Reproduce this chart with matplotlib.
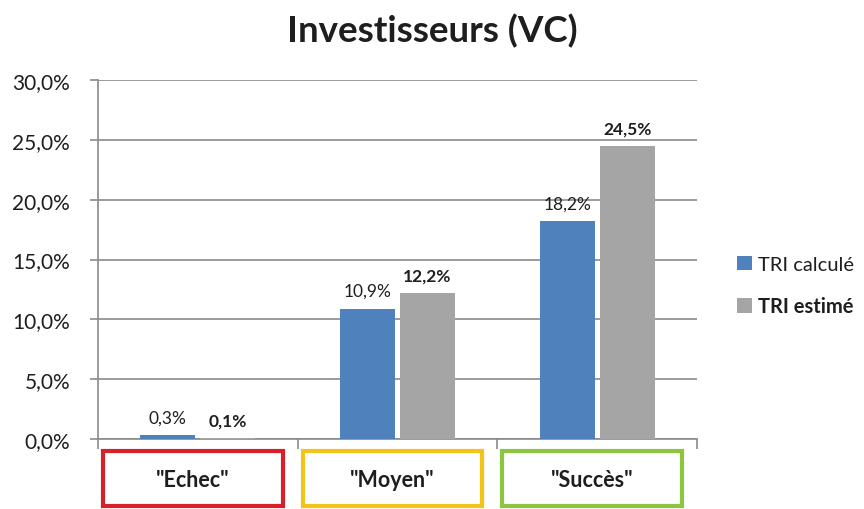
import matplotlib
matplotlib.use("Agg")
import matplotlib.pyplot as plt
from matplotlib.patches import Rectangle
from matplotlib.transforms import blended_transform_factory
import numpy as np

plt.rcParams['font.family'] = ['Lato', 'DejaVu Sans']

categories = ['"Echec"', '"Moyen"', '"Succès"']
tri_calcule = [0.3, 10.9, 18.2]
tri_estime = [0.1, 12.2, 24.5]
series_names = ['TRI calculé', 'TRI estimé']
yticks = [0, 5, 10, 15, 20, 25, 30]
box_colors = ['#D7202A', '#F2C318', '#8CC63F']

blue = '#4F81BD'
grey = '#A5A5A5'
text_col = '#1E1E1E'
grid_col = '#8A8A8A'

fig = plt.figure(figsize=(8.64, 5.10), dpi=100)
ax = fig.add_axes([98/864, 1-440/510, 599/864, 359/510])

x = np.arange(len(categories))
w = 0.275
gap = 0.025
b1 = ax.bar(x - (w+gap)/2, tri_calcule, w, color=blue, zorder=3, label=series_names[0])
b2 = ax.bar(x + (w+gap)/2, tri_estime, w, color=grey, zorder=3, label=series_names[1])

def fmt(v):
    return f"{v:.1f}%".replace('.', ',')

for rect, v in zip(b1, tri_calcule):
    ax.annotate(fmt(v), (rect.get_x()+rect.get_width()/2, v), xytext=(0, 7),
                textcoords='offset points', ha='center', va='bottom',
                fontsize=12.5, color=text_col)
for rect, v in zip(b2, tri_estime):
    ax.annotate(fmt(v), (rect.get_x()+rect.get_width()/2, v), xytext=(0, 7),
                textcoords='offset points', ha='center', va='bottom',
                fontsize=12.5, color=text_col, fontweight='bold')

ax.set_xlim(-0.5, 2.5)
ax.set_ylim(0, 30)
ax.set_yticks(yticks)
ax.set_yticklabels([f"{t:.1f}%".replace('.', ',') for t in yticks], fontsize=15, color=text_col)
ax.yaxis.grid(True, color=grid_col, linewidth=1.2, zorder=0)
ax.set_axisbelow(True)
ax.tick_params(axis='y', direction='out', length=6, color=grid_col, width=1.2, pad=14)

ax.set_xticks([])
ax.set_xticks([-0.5, 0.5, 1.5, 2.5], minor=True)
ax.tick_params(axis='x', which='minor', direction='out', length=7, color=grid_col, width=1.2)

for s in ['top', 'right']:
    ax.spines[s].set_visible(False)
for s in ['left', 'bottom']:
    ax.spines[s].set_color(grid_col)
    ax.spines[s].set_linewidth(1.2)

trans = blended_transform_factory(ax.transData, ax.transAxes)
for i, (cat, col) in enumerate(zip(categories, box_colors)):
    rect = Rectangle((i - 0.475, -0.187), 0.9, 0.153, transform=trans,
                     fill=False, edgecolor=col, linewidth=3.0, clip_on=False)
    ax.add_patch(rect)
    ax.text(i - 0.025, -0.113, cat, transform=trans, ha='center', va='center',
            fontsize=15.5, fontweight='bold', color=text_col)

fig.text(0.5, 1-42/510, 'Investisseurs (VC)', ha='center', va='baseline',
         fontsize=26.5, fontweight='bold', color=text_col)

leg = fig.legend(handles=[b1, b2], labels=series_names, loc='center left',
                 bbox_to_anchor=(737/864, 1-287/510), frameon=False,
                 fontsize=14.5, handlelength=0.75, handleheight=0.75,
                 handletextpad=0.3, labelspacing=1.15, borderpad=0, borderaxespad=0)
for t in leg.get_texts():
    t.set_color(text_col)
leg.get_texts()[1].set_fontweight('bold')

fig.savefig('out.png', dpi=100, facecolor='white')
